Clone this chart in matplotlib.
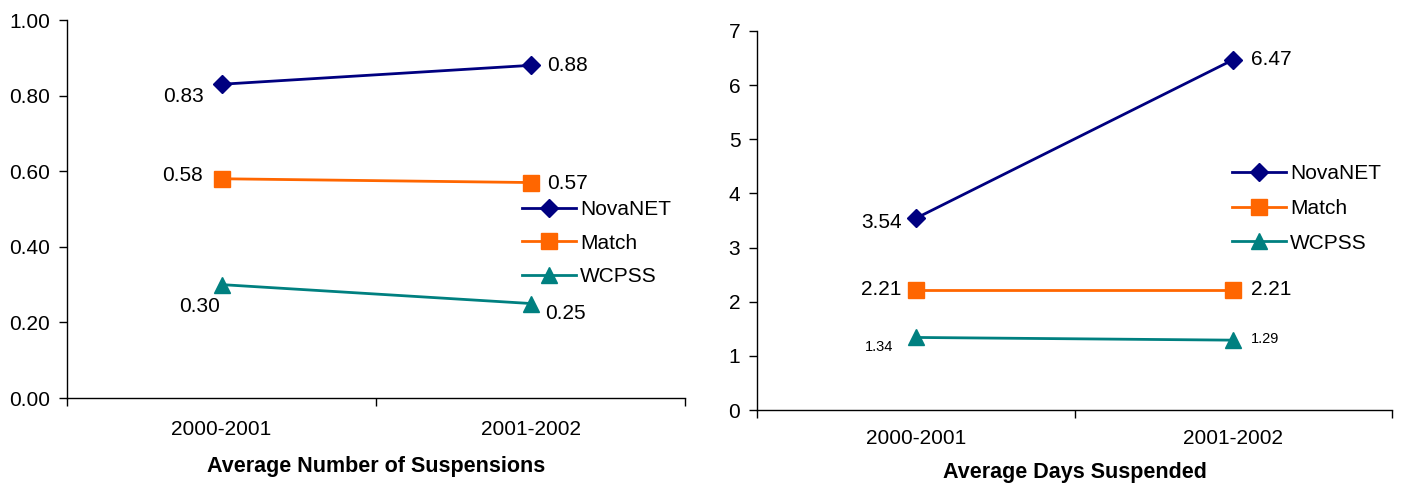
import matplotlib
matplotlib.use("Agg")
import matplotlib.pyplot as plt
from matplotlib.ticker import FixedLocator

plt.rcParams['font.family'] = ['Liberation Sans', 'DejaVu Sans']

categories = ["2000-2001", "2001-2002"]
series_names = ["NovaNET", "Match", "WCPSS"]

susp_novanet = [0.83, 0.88]
susp_match = [0.58, 0.57]
susp_wcpss = [0.30, 0.25]

days_novanet = [3.54, 6.47]
days_match = [2.21, 2.21]
days_wcpss = [1.34, 1.29]

left_yticks = [0.0, 0.2, 0.4, 0.6, 0.8, 1.0]
right_yticks = [0, 1, 2, 3, 4, 5, 6, 7]

colors = {"NovaNET": "#000080", "Match": "#FF6600", "WCPSS": "#008080"}
markers = {"NovaNET": ("D", 9), "Match": ("s", 12), "WCPSS": ("^", 12)}

W, H = 1401, 484
fig = plt.figure(figsize=(W / 100, H / 100), dpi=100)

def ax_rect(l, r, t, b):
    return [l / W, 1 - b / H, (r - l) / W, (b - t) / H]

axL = fig.add_axes(ax_rect(67, 685, 20, 398))
axR = fig.add_axes(ax_rect(757, 1392, 31, 410))

def style(ax, yticks, fmt, ylim, xpad):
    ax.set_xlim(-0.5, 1.5)
    ax.set_ylim(*ylim)
    for s in ("top", "right"):
        ax.spines[s].set_visible(False)
    for s in ("left", "bottom"):
        ax.spines[s].set_linewidth(1.0)
        ax.spines[s].set_color("black")
    ax.set_yticks(yticks)
    ax.set_yticklabels([fmt(v) for v in yticks])
    ax.set_xticks([0, 1])
    ax.set_xticklabels(categories)
    ax.xaxis.set_minor_locator(FixedLocator([-0.5, 0.5, 1.5]))
    ax.tick_params(axis="x", which="major", length=0, labelsize=15, pad=xpad)
    ax.tick_params(axis="x", which="minor", length=6, width=1, direction="out")
    ax.tick_params(axis="y", length=6, width=1, direction="out", labelsize=15, pad=6)

def draw(ax, data):
    handles = []
    for name, vals in zip(series_names, data):
        m, ms = markers[name]
        h, = ax.plot(range(len(categories)), vals, color=colors[name], lw=2,
                     marker=m, markersize=ms, markerfacecolor=colors[name],
                     markeredgecolor=colors[name], label=name, clip_on=False)
        handles.append(h)
    return handles

hL = draw(axL, [susp_novanet, susp_match, susp_wcpss])
hR = draw(axR, [days_novanet, days_match, days_wcpss])

style(axL, left_yticks, lambda v: f"{v:.2f}", (0, 1.0), 16)
style(axR, right_yticks, lambda v: f"{v:d}", (0, 7), 14)

axL.set_xlabel("Average Number of Suspensions", fontsize=15.5, fontweight="bold", labelpad=12)
axR.set_xlabel("Average Days Suspended", fontsize=15.5, fontweight="bold", labelpad=10)

def lab(ax, x, y, text, dx, dy, ha, size=15):
    ax.annotate(text, (x, y), xytext=(dx, dy), textcoords="offset pixels",
                ha=ha, va="center", fontsize=size)

# left chart labels
lab(axL, 0, susp_novanet[0], f"{susp_novanet[0]:.2f}", -18, -12, "right")
lab(axL, 1, susp_novanet[1], f"{susp_novanet[1]:.2f}", 17, 0, "left")
lab(axL, 0, susp_match[0], f"{susp_match[0]:.2f}", -19, 3, "right")
lab(axL, 1, susp_match[1], f"{susp_match[1]:.2f}", 17, -1, "left")
lab(axL, 0, susp_wcpss[0], f"{susp_wcpss[0]:.2f}", -1, -22, "right")
lab(axL, 1, susp_wcpss[1], f"{susp_wcpss[1]:.2f}", 15, -10, "left")

# right chart labels
lab(axR, 0, days_novanet[0], f"{days_novanet[0]:.2f}", -14, -4, "right")
lab(axR, 1, days_novanet[1], f"{days_novanet[1]:.2f}", 18, 0, "left")
lab(axR, 0, days_match[0], f"{days_match[0]:.2f}", -14, 1, "right")
lab(axR, 1, days_match[1], f"{days_match[1]:.2f}", 18, 1, "left")
lab(axR, 0, days_wcpss[0], f"{days_wcpss[0]:.2f}", -23, -10, "right", size=10.5)
lab(axR, 1, days_wcpss[1], f"{days_wcpss[1]:.2f}", 18, 1, "left", size=10.5)

def leg(ax, handles, x, ytop, spacing):
    ax.legend(handles=handles, loc="upper left",
              bbox_to_anchor=(x / W, 1 - ytop / H), bbox_transform=fig.transFigure,
              frameon=False, fontsize=15, handlelength=2.6, handletextpad=0.2,
              borderpad=0, borderaxespad=0, labelspacing=spacing, numpoints=1)

leg(axL, hL, 522, 200, 0.7)
leg(axR, hR, 1232, 164, 0.76)

fig.savefig("out.png", dpi=100)
